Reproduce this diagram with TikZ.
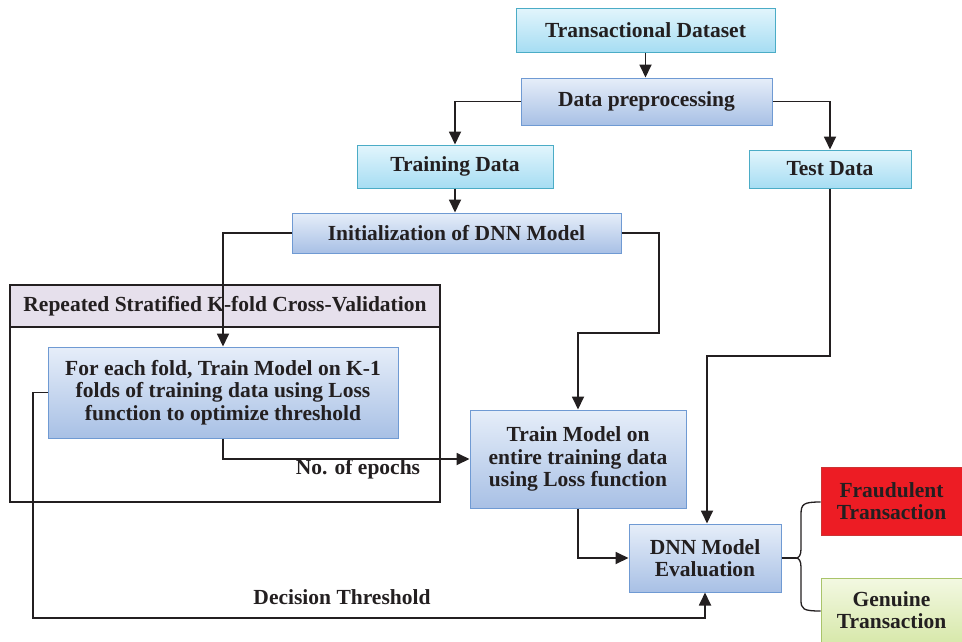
\documentclass[tikz,border=0pt]{standalone}
\usepackage{fontspec}
\setmainfont{Liberation Serif}
\usetikzlibrary{arrows.meta,calc}
\definecolor{cyanB}{HTML}{4BACC6}
\definecolor{cyanT}{HTML}{E2F5FC}
\definecolor{cyanBot}{HTML}{A6DDF3}
\definecolor{blueB}{HTML}{6F9AD3}
\definecolor{blueT}{HTML}{E6EEF9}
\definecolor{blueBot}{HTML}{A8C0E5}
\definecolor{lav}{HTML}{E6E0EC}
\definecolor{fraud}{HTML}{ED1C24}
\definecolor{genT}{HTML}{F3F8E2}
\definecolor{genBot}{HTML}{D5E7A6}
\definecolor{genB}{HTML}{A9C46A}
\definecolor{ink}{HTML}{231F20}
\tikzset{
  txt/.style={font=\fontsize{21.5}{22.5}\selectfont\bfseries, text=ink, align=center},
  cyanbox/.style={txt, draw=cyanB, line width=1pt, top color=cyanT, bottom color=cyanBot, inner sep=0pt},
  bluebox/.style={txt, draw=blueB, line width=1pt, top color=blueT, bottom color=blueBot, inner sep=0pt},
  conn/.style={draw=ink, line width=1.8pt},
  arr/.style={conn, -{Triangle[length=13pt,width=12pt]}},
  lbl/.style={txt}
}
\begin{document}
\begin{tikzpicture}[x=1pt,y=-1pt]
\useasboundingbox (0,0) rectangle (962,641);
% nodes
\node[cyanbox, minimum width=259pt, minimum height=44pt] (TD) at (645.5,30) {Transactional Dataset};
\node[bluebox, minimum width=251pt, minimum height=47pt] (DP) at (646.5,101.5) {Data preprocessing};
\node[cyanbox, minimum width=196pt, minimum height=43pt] (TrD) at (455,166.5) {Training Data};
\node[cyanbox, minimum width=162pt, minimum height=38pt] (TeD) at (830,169) {Test Data};
\node[bluebox, minimum width=329pt, minimum height=40pt] (Init) at (456.5,233) {Initialization of DNN Model};
% outer CV box
\node[draw=ink, line width=1.2pt, minimum width=430pt, minimum height=217pt, inner sep=0pt] (CV) at (225,393.5) {};
\node[draw=ink, line width=1.2pt, fill=lav, minimum width=430pt, minimum height=42pt, inner sep=0pt, txt] (CVH) at (225,306) {Repeated Stratified K-fold Cross-Validation};
\node[bluebox, minimum width=350pt, minimum height=91pt] (Fold) at (223,392.5) {For each fold, Train Model on K-1\\folds of training data using Loss\\function to optimize threshold};
\node[bluebox, minimum width=216pt, minimum height=98pt] (TM) at (578,459) {Train Model on\\entire training data\\using Loss function};
\node[bluebox, minimum width=152pt, minimum height=68pt] (Eval) at (705,558) {DNN Model\\Evaluation};
\node[txt, draw=red!60!gray, line width=0.8pt, fill=fraud, minimum width=141pt, minimum height=68pt, inner sep=0pt] (Fr) at (891.5,501) {Fraudulent\\Transaction};
\node[txt, draw=genB, line width=1pt, top color=genT, bottom color=genBot, minimum width=141pt, minimum height=70pt, inner sep=0pt] (Ge) at (891.5,613) {\raisebox{4pt}{\begin{tabular}{@{}c@{}}Genuine\\Transaction\end{tabular}}};
% coordinates
\coordinate (c1) at (659,333);
\coordinate (c2) at (707,356);
\coordinate (c3) at (33,618);
% connectors
\draw[arr] (TD.south) -- (TD.south |- DP.north);
\draw[arr] (DP.west) -| (TrD.north);
\draw[arr] (DP.east) -| (TeD.north);
\draw[arr] (TrD.south) -- (TrD.south |- Init.north);
\draw[arr] (Init.west) -| (Fold.north);
\draw[arr] (Init.east) -| (c1) -| (TM.north);
\draw[arr] (Fold.south) |- (TM.west);
\draw[arr] (TM.south) |- (Eval.west);
\draw[arr] (TeD.south) |- (c2) -- (c2 |- Eval.north);
\draw[arr] (Fold.west) -| (c3) -| (Eval.south);
% labels
\node[lbl] (ep) at (358,469) {No. of epochs};
\node[lbl] (dt) at (342,597) {Decision Threshold};
% brace
\coordinate (bc) at (796,558);
\draw[draw=ink, line width=1.3pt] (Eval.east) -- (bc);
\draw[draw=ink, line width=1.3pt] (Fr.west |- 0,502) .. controls (803,502) and (801,504) .. (801,515) -- (801,549) .. controls (801,555) and (799,558) .. (bc) .. controls (799,558) and (801,561) .. (801,567) -- (801,600) .. controls (801,609) and (803,611) .. (Ge.west |- 0,611);
\end{tikzpicture}
\end{document}
